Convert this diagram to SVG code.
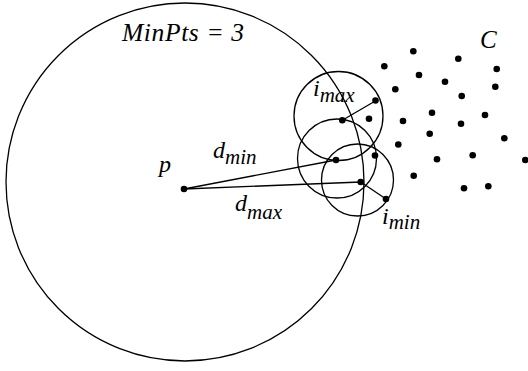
<svg xmlns="http://www.w3.org/2000/svg" width="528" height="371" viewBox="0 0 528 371">
<style>
.c{fill:none;stroke:#000;stroke-width:1.3}
.l{stroke:#000;stroke-width:1.3}
.d{fill:#000}
text{font-family:"Liberation Serif",serif;font-style:italic;fill:#000}
.t{font-size:24px}
.s{font-size:21px}
</style>
<rect width="528" height="371" fill="#fff"/>
<g id="region-p"><circle class="c" cx="185" cy="182" r="179"/></g>
<g id="circle-imax"><circle class="c" cx="338.5" cy="116" r="44.5"/></g>
<g id="circle-mid"><circle class="c" cx="337" cy="158.5" r="39.5"/></g>
<g id="circle-imin"><circle class="c" cx="357.5" cy="180" r="36"/></g>
<g id="connectors">
<line class="l" x1="184" y1="189" x2="336" y2="160"/>
<line class="l" x1="184" y1="189" x2="360.7" y2="182"/>
<line class="l" x1="342.3" y1="120.3" x2="375.7" y2="100.7"/>
<line class="l" x1="360.7" y1="182" x2="386" y2="199"/>
</g>
<g id="point-p"><circle class="d" cx="184" cy="189" r="3.3"/></g>
<g id="points">
<circle class="d" cx="342.3" cy="120.3" r="3.3"/>
<circle class="d" cx="336" cy="160" r="3.3"/>
<circle class="d" cx="360.7" cy="182" r="3.3"/>
<circle class="d" cx="369" cy="118.7" r="3.3"/>
<circle class="d" cx="375.5" cy="100.5" r="3.3"/>
<circle class="d" cx="375" cy="155.5" r="3.3"/>
<circle class="d" cx="386" cy="199" r="3.3"/>
</g>
<g id="cluster-C">
<circle class="d" cx="413.3" cy="51.3" r="3.3"/>
<circle class="d" cx="384.3" cy="66.3" r="3.3"/>
<circle class="d" cx="458.3" cy="58.7" r="3.3"/>
<circle class="d" cx="496.7" cy="69" r="3.3"/>
<circle class="d" cx="419" cy="75" r="3.3"/>
<circle class="d" cx="445" cy="81.7" r="3.3"/>
<circle class="d" cx="395.3" cy="89.3" r="3.3"/>
<circle class="d" cx="495.3" cy="86.7" r="3.3"/>
<circle class="d" cx="461.7" cy="96" r="3.3"/>
<circle class="d" cx="432" cy="112.7" r="3.3"/>
<circle class="d" cx="485" cy="115" r="3.3"/>
<circle class="d" cx="403" cy="121" r="3.3"/>
<circle class="d" cx="461" cy="123.7" r="3.3"/>
<circle class="d" cx="429.7" cy="133.7" r="3.3"/>
<circle class="d" cx="504.3" cy="138.3" r="3.3"/>
<circle class="d" cx="398.3" cy="144.5" r="3.3"/>
<circle class="d" cx="472.7" cy="155.3" r="3.3"/>
<circle class="d" cx="437" cy="159.3" r="3.3"/>
<circle class="d" cx="525.3" cy="160" r="3.3"/>
<circle class="d" cx="413.7" cy="175.7" r="3.3"/>
<circle class="d" cx="464" cy="188.3" r="3.3"/>
<circle class="d" cx="488.3" cy="186.3" r="3.3"/>
</g>
<g id="labels">
<text x="122" y="40.5" style="font-size:25.5px" textLength="122" lengthAdjust="spacing">MinPts = 3</text>
<text x="480" y="48" style="font-size:25px">C</text>
<text class="t" x="159" y="172">p</text>
<text class="t" x="213" y="158">d<tspan class="s" dy="6">min</tspan></text>
<text class="t" x="235" y="211">d<tspan class="s" dy="8">max</tspan></text>
<text class="t" x="313" y="95.5">i<tspan class="s" dy="6">max</tspan></text>
<text class="t" x="382" y="224">i<tspan class="s" dy="5">min</tspan></text>
</g>
</svg>
